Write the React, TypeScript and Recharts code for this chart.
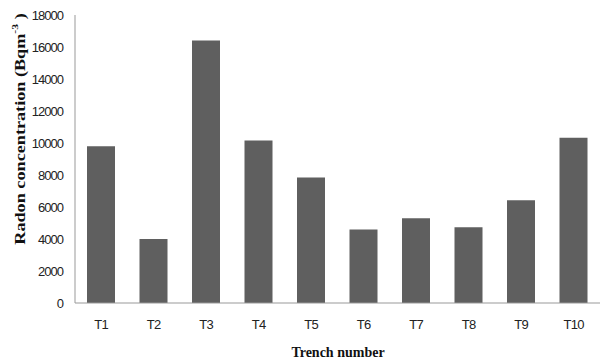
import { BarChart, Bar, XAxis, YAxis } from "recharts";

const trenches = ["T1", "T2", "T3", "T4", "T5", "T6", "T7", "T8", "T9", "T10"];
const radon = [9800, 4000, 16400, 10150, 7850, 4600, 5300, 4730, 6420, 10330];
const yTicks = [0, 2000, 4000, 6000, 8000, 10000, 12000, 14000, 16000, 18000];

const data = trenches.map((t, i) => ({ trench: t, radon: radon[i] }));

const tickFont = "'Liberation Sans', Arial, sans-serif";
const titleFont = "'Liberation Serif', 'Times New Roman', serif";

// y title is stretched along its length like in the scanned original
const YTitle = () => (
  <text
    x={0}
    y={0}
    transform="translate(21 129) rotate(-90) scale(1.3 1)"
    textAnchor="middle"
    dominantBaseline="central"
    fontFamily={titleFont}
    fontWeight="bold"
    fontSize={14}
    fill="#111"
  >
    Radon concentration (Bqm
    <tspan dy={-6} fontSize={9}>-3</tspan>
    <tspan dy={6}> )</tspan>
  </text>
);

const XTitle = () => (
  <text
    x={338}
    y={352}
    textAnchor="middle"
    dominantBaseline="central"
    fontFamily={titleFont}
    fontWeight="bold"
    fontSize={14}
    fill="#111"
  >
    Trench number
  </text>
);

export default function App() {
  return (
    <div style={{ position: "absolute", left: 0, top: 0 }}>
      <BarChart
        width={608}
        height={363}
        data={data}
        margin={{ top: 15, right: 8, bottom: 30, left: 0 }}
      >
        <XAxis
          dataKey="trench"
          height={30}
          axisLine={{ stroke: "#999" }}
          tickLine={false}
          tickSize={0}
          tickMargin={17}
          tick={{ fill: "#222", fontSize: 13, fontFamily: tickFont, letterSpacing: -0.7 }}
          label={<XTitle />}
        />
        <YAxis
          width={75}
          domain={[0, 18000]}
          ticks={yTicks}
          interval={0}
          axisLine={{ stroke: "#999" }}
          tickLine={false}
          tickSize={0}
          tickMargin={12}
          tick={{ fill: "#222", fontSize: 13, fontFamily: tickFont, letterSpacing: -1 }}
          label={<YTitle />}
        />
        <Bar dataKey="radon" fill="#5f5f5f" barSize={28} isAnimationActive={false} />
      </BarChart>
    </div>
  );
}
